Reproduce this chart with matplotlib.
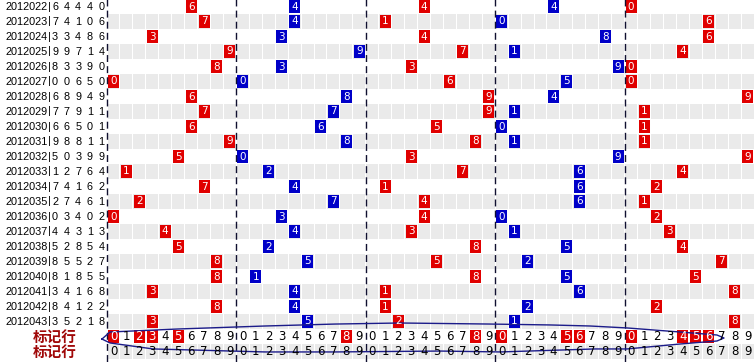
import numpy as np
import matplotlib
matplotlib.use('Agg')
import matplotlib.pyplot as plt

# issue numbers and the five drawn digits of each issue
periods = ['2012022', '2012023', '2012024', '2012025', '2012026', '2012027',
           '2012028', '2012029', '2012030', '2012031', '2012032', '2012033',
           '2012034', '2012035', '2012036', '2012037', '2012038', '2012039',
           '2012040', '2012041', '2012042', '2012043']
draws = ['64440', '74106', '33486', '99714', '83390', '00650',
         '68949', '77911', '66501', '98811', '50399', '12764',
         '74162', '27461', '03402', '44313', '52854', '85527',
         '81855', '34168', '84122', '35218']

# digits highlighted in the first marker row, one list per position
marks = [[0, 2, 3, 5], [8], [8], [0, 5, 6], [0, 4, 5, 6]]
mark_label = '标记行'

# hand drawn ring around the marker rows (grid units: x = cell, y = row)
ring_x = [-0.39, 0.23, 5.49, 12.21, 17.62, 22.64, 29.6, 34.23, 37.33, 40.19,
          44.28, 47.14, 47.68, 47.14, 44.28, 40.19, 37.72, 30.37, 25.74,
          17.62, 12.21, 3.56, 0.23, -0.39]
ring_y = [22.67, 22.2, 22.0, 21.8, 21.67, 21.6, 21.67, 21.73, 21.8, 21.93,
          22.2, 22.4, 22.6, 22.8, 23.0, 23.33, 23.33, 23.53, 23.47,
          23.53, 23.53, 23.33, 22.93, 22.67]

CW = 12.94   # cell width in pixels
X0 = 107     # left edge of the grid in pixels
RH = 15      # row height in pixels


def px(x):
    return (x - X0) / CW


fig = plt.figure(figsize=(7.55, 3.62), dpi=100)
ax = fig.add_axes([0, 0, 1, 1])
ax.set_xlim(px(0), px(755))
ax.set_ylim(363 / RH, 1 / RH)
ax.axis('off')

nrows = len(periods) + 2
cells = np.arange(50) + 0.5

# grey bands with white cell gaps
for r in range(1, nrows, 2):
    ax.bar(cells, 1, width=1 - 1 / CW, bottom=r, color='#eaeaea', linewidth=0)

red = '#e00000'
blue = '#0000c8'
box_w = 11 / CW
box_h = 13 / RH

for r, (per, dr) in enumerate(zip(periods, draws)):
    ax.text(px(5), r + 0.55, per, ha='left', va='center', fontsize=7.8,
            family='Liberation Sans', color='black')
    ax.text(px(49.5), r + 0.5, '|', ha='center', va='center', fontsize=8,
            family='Liberation Sans', color='black')
    for k, ch in enumerate(dr):
        d = int(ch)
        ax.text(px(55 + 11.6 * k), r + 0.55, ch, ha='center', va='center',
                fontsize=7.8, family='Liberation Sans', color='black')
        c = red if k % 2 == 0 else blue
        ax.bar(k * 10 + d + 0.5, box_h, width=box_w, bottom=r + 0.04,
               color=c, linewidth=0)
        ax.text(k * 10 + d + 0.5, r + 0.5, ch, ha='center', va='center',
                fontsize=7.5, color='white')

# marker rows
r1 = len(periods)
r2 = r1 + 1
for r in (r1, r2):
    ax.text(px(55), r + 0.5, mark_label, ha='center', va='center',
            fontsize=10.5, fontweight='bold', color='#a00808',
            family=['Noto Sans CJK SC', 'DejaVu Sans'])
for k in range(5):
    for j in range(10):
        x = k * 10 + j + 0.5
        if j in marks[k]:
            ax.bar(x, box_h, width=box_w, bottom=r1 + 0.04, color=red,
                   linewidth=0)
            ax.text(x, r1 + 0.5, str(j), ha='center', va='center',
                    fontsize=8.5, color='white')
        else:
            ax.text(x, r1 + 0.5, str(j), ha='center', va='center',
                    fontsize=8.5, color='black')
        ax.text(x, r2 + 0.5, str(j), ha='center', va='center',
                fontsize=8.5, color='black')

# dashed dividers between positions
ax.vlines([0, 10, 20, 30, 40], 0, 363 / RH, colors='#101030',
          linestyles=(0, (5, 3)), linewidth=1)

ax.plot(ring_x, ring_y, color='#1c1c8a', linewidth=1)

fig.savefig('out.png', dpi=100)
